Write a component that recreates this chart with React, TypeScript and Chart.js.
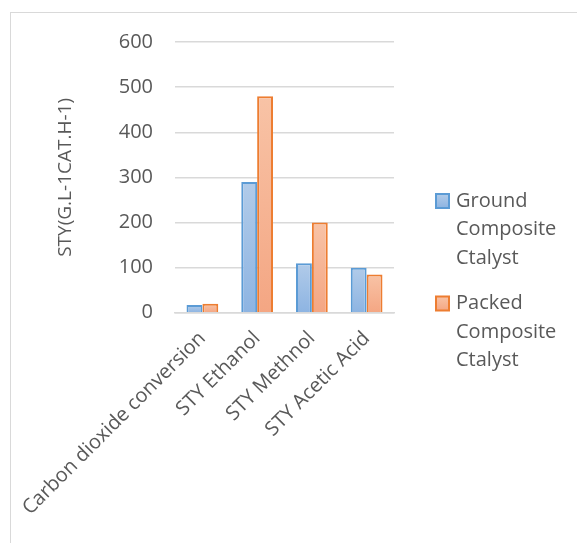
import React, { useEffect, useRef } from "react";
import { Chart, registerables } from "chart.js";

Chart.register(...registerables);

const categories = [
  "Carbon dioxide conversion",
  "STY Ethanol",
  "STY Methnol",
  "STY Acetic Acid",
];
const groundValues = [17, 290, 110, 100];
const packedValues = [20, 480, 200, 85];
const seriesNames = [
  ["Ground", "Composite", "Ctalyst"],
  ["Packed", "Composite", "Ctalyst"],
];
const yTitle = "STY(G.L-1CAT.H-1)";

const FONT = "'Open Sans', sans-serif";
const TEXT = "#595959";

const palette = [
  { border: "#5b9bd5", top: "#b1cbe9", bottom: "#8db4e2" },
  { border: "#ed7d31", top: "#f8c3a6", bottom: "#f4a683" },
];

// per-bar vertical gradient, lighter at the top
function barFill(idx: number) {
  return (ctx: any) => {
    const chart = ctx.chart;
    const c = palette[idx];
    if (!chart.chartArea || ctx.raw == null) return c.bottom;
    const y = chart.scales.y;
    const top = y.getPixelForValue(ctx.raw);
    const bottom = y.getPixelForValue(0);
    if (!isFinite(top) || !isFinite(bottom) || top === bottom) return c.bottom;
    const g = chart.ctx.createLinearGradient(0, top, 0, bottom);
    g.addColorStop(0, c.top);
    g.addColorStop(1, c.bottom);
    return g;
  };
}

// legend drawn at the right with wrapped series names, box next to the first line
const sideLegend = {
  id: "sideLegend",
  afterDraw(chart: any) {
    const { ctx, chartArea } = chart;
    const boxX = chartArea.right + 42;
    const textX = boxX + 20;
    const lineH = 28.5;
    let y = chartArea.top + 159;
    ctx.save();
    ctx.font = `20px ${FONT}`;
    ctx.textBaseline = "middle";
    ctx.textAlign = "left";
    seriesNames.forEach((lines, i) => {
      const c = palette[i];
      const g = ctx.createLinearGradient(0, y - 7, 0, y + 7);
      g.addColorStop(0, c.top);
      g.addColorStop(1, c.bottom);
      ctx.fillStyle = g;
      ctx.fillRect(boxX, y - 7, 13, 14);
      ctx.strokeStyle = c.border;
      ctx.lineWidth = 2;
      ctx.strokeRect(boxX, y - 7, 13, 14);
      ctx.fillStyle = TEXT;
      lines.forEach((t, j) => ctx.fillText(t, textX, y + j * lineH));
      y += lines.length * lineH + 17;
    });
    ctx.restore();
  },
};

export default function App() {
  const ref = useRef<HTMLCanvasElement>(null);

  useEffect(() => {
    if (!ref.current) return;
    const chart = new Chart(ref.current, {
      type: "bar",
      data: {
        labels: categories,
        datasets: [
          {
            label: seriesNames[0].join(" "),
            data: groundValues,
            backgroundColor: barFill(0),
            borderColor: palette[0].border,
            borderWidth: 2,
            categoryPercentage: 0.58,
            barPercentage: 1,
          },
          {
            label: seriesNames[1].join(" "),
            data: packedValues,
            backgroundColor: barFill(1),
            borderColor: palette[1].border,
            borderWidth: 2,
            categoryPercentage: 0.58,
            barPercentage: 1,
          },
        ],
      },
      options: {
        animation: false,
        responsive: false,
        maintainAspectRatio: false,
        layout: { padding: { top: 42, right: 183, bottom: 17, left: 40 } },
        plugins: {
          legend: { display: false },
          tooltip: { enabled: false },
        },
        scales: {
          x: {
            grid: { display: false },
            border: { display: true, color: "#d9d9d9", width: 1.5 },
            ticks: {
              color: TEXT,
              font: { family: FONT, size: 20 },
              minRotation: 45,
              maxRotation: 45,
              padding: 6,
            },
          },
          y: {
            min: 0,
            max: 600,
            ticks: {
              stepSize: 100,
              color: TEXT,
              font: { family: FONT, size: 20 },
              padding: 22,
            },
            grid: { color: "#d9d9d9", lineWidth: 1.5, drawTicks: false },
            border: { display: false },
            title: {
              display: true,
              text: yTitle,
              color: TEXT,
              font: { family: FONT, size: 19 },
              padding: { top: 0, bottom: 20 },
            },
          },
        },
      },
      plugins: [sideLegend],
    });
    return () => chart.destroy();
  }, []);

  return (
    <div
      style={{
        position: "fixed",
        left: 0,
        top: 0,
        width: 577,
        height: 543,
        overflow: "hidden",
        background: "#ffffff",
      }}
    >
      <div
        style={{
          position: "absolute",
          left: 10,
          top: 12,
          width: 700,
          height: 700,
          border: "1.5px solid #d9d9d9",
        }}
      />
      <canvas
        ref={ref}
        width={577}
        height={543}
        style={{ position: "absolute", left: 0, top: 0 }}
      />
    </div>
  );
}
